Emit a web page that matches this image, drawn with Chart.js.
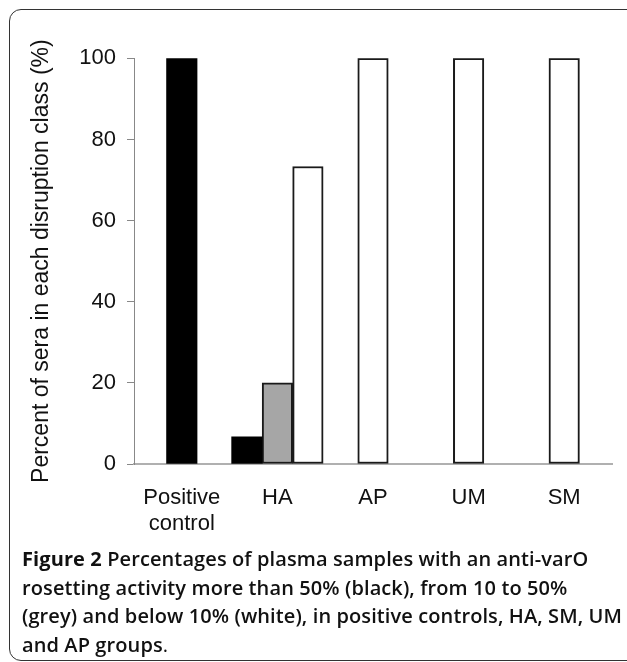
<!DOCTYPE html>
<html>
<head>
<meta charset="utf-8">
<script src="https://cdn.jsdelivr.net/npm/chart.js@4/dist/chart.umd.min.js"></script>
<style>
  html, body { margin: 0; padding: 0; background: #fff; }
  body { width: 627px; height: 662px; position: relative; overflow: hidden; }
  .frame {
    position: absolute; left: 9px; top: 9px; width: 630px; height: 650px;
    border: 1.5px solid #333; border-radius: 12px;
  }
  #chart { position: absolute; left: 0; top: 0; }
  .caption {
    position: absolute; left: 22px; top: 545px; width: 605px;
    font-family: "Open Sans", sans-serif; font-weight: 600; font-size: 20px;
    letter-spacing: 0.1px; line-height: 28.5px; color: #111; white-space: nowrap; z-index: 2;
  }
  .caption b { font-weight: 700; }
  .caption span { font-weight: 400; }
</style>
</head>
<body>
<div class="frame"></div>
<canvas id="chart" width="627" height="580"></canvas>
<div class="caption">
  <b>Figure 2</b> Percentages of plasma samples with an anti-varO<br>
  rosetting activity more than 50% (black), from 10 to 50%<br>
  (grey) and below 10% (white), in positive controls, HA, SM, UM<br>
  and AP groups<span>.</span>
</div>
<script>
// groups on the x axis
const groups = [['Positive', 'control'], 'HA', 'AP', 'UM', 'SM'];

// percent of sera in each disruption class (null = no bar)
const above50 = [100, 6.67, null, null, null];
const from10to50 = [null, 20, null, null, null];
const below10 = [null, 73.33, 100, 100, 100];

const yTicks = [0, 20, 40, 60, 80, 100];

const axisFont = { family: 'Liberation Sans, Arial, sans-serif', size: 22 };

document.addEventListener('DOMContentLoaded', () => {
    const ctx = document.getElementById('chart').getContext('2d');

    new Chart(ctx, {
        type: 'bar',
        data: {
            labels: groups,
            datasets: [
                { label: '> 50%', data: above50, backgroundColor: '#000', borderColor: '#000', borderWidth: 0 },
                { label: '10 - 50%', data: from10to50, backgroundColor: '#a6a6a6', borderColor: '#1a1a1a', borderWidth: 2 },
                { label: '< 10%', data: below10, backgroundColor: '#fff', borderColor: '#1a1a1a', borderWidth: 2 }
            ]
        },
        options: {
            responsive: false,
            animation: false,
            skipNull: true,
            barThickness: 30.5,
            borderSkipped: false,
            layout: { padding: { top: 58.3, right: 15, bottom: 21.6, left: 0 } },
            plugins: { legend: { display: false }, tooltip: { enabled: false } },
            scales: {
                x: {
                    grid: { display: false, drawTicks: false },
                    border: { color: '#b0b0b0', width: 2 },
                    ticks: { color: '#111', font: axisFont, padding: 20.8, maxRotation: 0 }
                },
                y: {
                    min: 0,
                    max: 100,
                    afterBuildTicks: scale => { scale.ticks = yTicks.map(v => ({ value: v })); },
                    afterFit: scale => { scale.width = 134; },
                    grid: { drawOnChartArea: false, drawTicks: true, tickLength: 7, color: '#888' },
                    border: { color: '#888', width: 1 },
                    ticks: { color: '#111', font: axisFont, padding: 11 },
                    title: {
                        display: true,
                        text: 'Percent of sera in each disruption class (%)',
                        color: '#111',
                        font: { family: 'Liberation Sans, Arial, sans-serif', size: 23 },
                        padding: { top: 28, bottom: 0 }
                    }
                }
            }
        }
    });
});
</script>
</body>
</html>
